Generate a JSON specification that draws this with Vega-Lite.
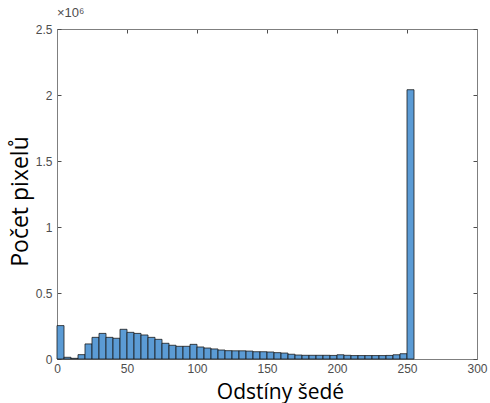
{
  "$schema": "https://vega.github.io/schema/vega-lite/v6.json",
  "width": 420,
  "height": 330,
  "autosize": {"type": "none"},
  "padding": {"left": 57, "top": 29, "right": 13, "bottom": 44},
  "background": "white",
  "title": {"text": "×10⁶", "anchor": "start", "frame": "group", "font": "Liberation Sans", "fontSize": 13, "fontWeight": "normal", "color": "#4d4d4d", "offset": 3, "dx": 0},
  "config": {
    "view": {"stroke": null},
    "axis": {
      "domainColor": "#7f7f7f",
      "tickColor": "#4d4d4d",
      "labelFont": "Liberation Sans",
      "labelFontSize": 12,
      "labelColor": "#4d4d4d",
      "labelFlush": false,
      "grid": false,
      "titleFont": "Open Sans",
      "titleFontWeight": "normal",
      "titleColor": "#000000"
    }
  },
  "data": {"values": [
    {"start": 0, "end": 5, "count": 253000},
    {"start": 5, "end": 10, "count": 13000},
    {"start": 10, "end": 15, "count": 5000},
    {"start": 15, "end": 20, "count": 33000},
    {"start": 20, "end": 25, "count": 114000},
    {"start": 25, "end": 30, "count": 164000},
    {"start": 30, "end": 35, "count": 194000},
    {"start": 35, "end": 40, "count": 164000},
    {"start": 40, "end": 45, "count": 157000},
    {"start": 45, "end": 50, "count": 225000},
    {"start": 50, "end": 55, "count": 202000},
    {"start": 55, "end": 60, "count": 194000},
    {"start": 60, "end": 65, "count": 182000},
    {"start": 65, "end": 70, "count": 164000},
    {"start": 70, "end": 75, "count": 149000},
    {"start": 75, "end": 80, "count": 119000},
    {"start": 80, "end": 85, "count": 104000},
    {"start": 85, "end": 90, "count": 96000},
    {"start": 90, "end": 95, "count": 96000},
    {"start": 95, "end": 100, "count": 111000},
    {"start": 100, "end": 105, "count": 91000},
    {"start": 105, "end": 110, "count": 83000},
    {"start": 110, "end": 115, "count": 76000},
    {"start": 115, "end": 120, "count": 68000},
    {"start": 120, "end": 125, "count": 63000},
    {"start": 125, "end": 130, "count": 62000},
    {"start": 130, "end": 135, "count": 62000},
    {"start": 135, "end": 140, "count": 60000},
    {"start": 140, "end": 145, "count": 55000},
    {"start": 145, "end": 150, "count": 55000},
    {"start": 150, "end": 155, "count": 53000},
    {"start": 155, "end": 160, "count": 48000},
    {"start": 160, "end": 165, "count": 45000},
    {"start": 165, "end": 170, "count": 36000},
    {"start": 170, "end": 175, "count": 30000},
    {"start": 175, "end": 180, "count": 28000},
    {"start": 180, "end": 185, "count": 28000},
    {"start": 185, "end": 190, "count": 28000},
    {"start": 190, "end": 195, "count": 28000},
    {"start": 195, "end": 200, "count": 27000},
    {"start": 200, "end": 205, "count": 32000},
    {"start": 205, "end": 210, "count": 28000},
    {"start": 210, "end": 215, "count": 26000},
    {"start": 215, "end": 220, "count": 26000},
    {"start": 220, "end": 225, "count": 26000},
    {"start": 225, "end": 230, "count": 26000},
    {"start": 230, "end": 235, "count": 26000},
    {"start": 235, "end": 240, "count": 27000},
    {"start": 240, "end": 245, "count": 32000},
    {"start": 245, "end": 250, "count": 40000},
    {"start": 250, "end": 255, "count": 2040000}
  ]},
  "layer": [
    {
      "mark": {"type": "bar", "fill": "#5b9bd5", "stroke": "#1a1a1a", "strokeWidth": 0.8},
      "encoding": {
        "x": {"field": "start", "type": "quantitative", "scale": {"domain": [0, 300], "nice": false},
          "axis": {"orient": "bottom", "values": [0, 50, 100, 150, 200, 250, 300], "tickSize": -4, "labelPadding": 8,
            "title": "Odstíny šedé", "titleFontSize": 21, "titleX": 223, "titleY": 39, "titleBaseline": "alphabetic", "titleAlign": "center"}},
        "x2": {"field": "end"},
        "y": {"field": "count", "type": "quantitative", "scale": {"domain": [0, 2500000], "nice": false},
          "axis": {"orient": "left", "values": [0, 500000, 1000000, 1500000, 2000000, 2500000], "tickSize": -4, "labelPadding": 9,
            "labelExpr": "datum.value / 1000000",
            "title": "Počet pixelů", "titleFontSize": 23, "titleX": -37, "titleY": 172, "titleAngle": -90, "titleBaseline": "middle", "titleAlign": "center"}},
        "y2": {"datum": 0}
      }
    },
    {
      "mark": {"type": "bar", "opacity": 0},
      "encoding": {
        "x": {"field": "start", "type": "quantitative", "scale": {"domain": [0, 300], "nice": false},
          "axis": {"orient": "top", "values": [0, 50, 100, 150, 200, 250, 300], "tickSize": -4, "labels": false, "title": null}},
        "x2": {"field": "end"},
        "y": {"field": "count", "type": "quantitative", "scale": {"domain": [0, 2500000], "nice": false},
          "axis": {"orient": "right", "values": [0, 500000, 1000000, 1500000, 2000000, 2500000], "tickSize": -4, "labels": false, "title": null}},
        "y2": {"datum": 0}
      }
    }
  ],
  "resolve": {"axis": {"x": "independent", "y": "independent"}}
}
